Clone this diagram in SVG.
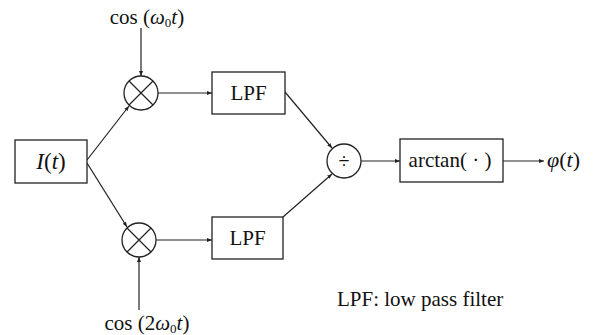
<svg xmlns="http://www.w3.org/2000/svg" width="596" height="335" viewBox="0 0 596 335">
<defs>
<style>
.box{fill:#fff;stroke:#222;stroke-width:1.3}
.ln{fill:none;stroke:#222;stroke-width:1.2;marker-end:url(#ah)}
.t{font-family:"Liberation Serif","Times New Roman",serif;fill:#111}
.it{font-style:italic}
</style>
<marker id="ah" viewBox="0 0 10 10" refX="10" refY="5" markerWidth="5" markerHeight="5" markerUnits="userSpaceOnUse" orient="auto">
<path d="M0,1 L10,5 L0,9 z" fill="#222"/>
</marker>
</defs>
<rect width="596" height="335" fill="#fff"/>
<g id="connectors">
<line class="ln" x1="141" y1="28" x2="141" y2="76"/>
<line class="ln" x1="87" y1="160" x2="129" y2="106"/>
<line class="ln" x1="158" y1="93" x2="212" y2="93"/>
<line class="ln" x1="87" y1="163" x2="127" y2="227"/>
<line class="ln" x1="139" y1="310" x2="139" y2="257"/>
<line class="ln" x1="156" y1="240" x2="212" y2="240"/>
<line class="ln" x1="285" y1="92" x2="332" y2="148"/>
<line class="ln" x1="283" y1="217" x2="332" y2="174"/>
<line class="ln" x1="361" y1="161" x2="400" y2="161"/>
<line class="ln" x1="503" y1="161" x2="544" y2="161"/>
</g>
<g id="input">
<rect class="box" x="15" y="140" width="72" height="43"/>
<text class="t" x="51" y="169" font-size="23" text-anchor="middle"><tspan class="it">I</tspan>(<tspan class="it">t</tspan>)</text>
</g>
<g id="cos1">
<text class="t" x="147" y="24" font-size="21" text-anchor="middle">cos (<tspan class="it">ω</tspan><tspan font-size="13" dy="3">0</tspan><tspan class="it" dy="-3">t</tspan>)</text>
</g>
<g id="mult1">
<circle class="box" cx="141" cy="93" r="17"/>
<path d="M129,81 L153,105 M153,81 L129,105" stroke="#222" stroke-width="1.2"/>
</g>
<g id="mult2">
<circle class="box" cx="139" cy="240" r="17"/>
<path d="M127,228 L151,252 M151,228 L127,252" stroke="#222" stroke-width="1.2"/>
</g>
<g id="cos2">
<text class="t" x="147" y="330" font-size="21" text-anchor="middle">cos (2<tspan class="it">ω</tspan><tspan font-size="13" dy="3">0</tspan><tspan class="it" dy="-3">t</tspan>)</text>
</g>
<g id="lpf1">
<rect class="box" x="212" y="72" width="73" height="42"/>
<text class="t" x="248.5" y="100" font-size="21" text-anchor="middle">LPF</text>
</g>
<g id="lpf2">
<rect class="box" x="212" y="217" width="71" height="42"/>
<text class="t" x="247.5" y="245" font-size="21" text-anchor="middle">LPF</text>
</g>
<g id="div">
<circle class="box" cx="344" cy="161" r="17"/>
<text class="t" x="344" y="168" font-size="20" text-anchor="middle">÷</text>
</g>
<g id="arctan">
<rect class="box" x="400" y="139" width="103" height="43"/>
<text class="t" x="450" y="167" font-size="21" text-anchor="middle">arctan( · )</text>
</g>
<g id="output">
<text class="t" x="547" y="167" font-size="22"><tspan class="it">φ</tspan>(<tspan class="it">t</tspan>)</text>
</g>
<g id="legend">
<text class="t" x="337" y="306" font-size="21">LPF: low pass filter</text>
</g>
</svg>
